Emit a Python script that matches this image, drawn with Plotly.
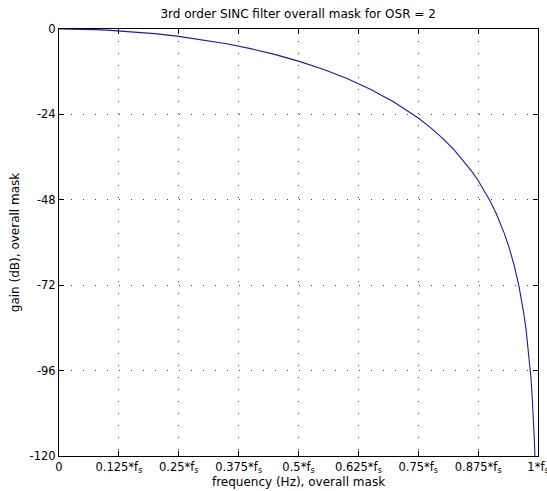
import plotly.graph_objects as go

# frequency as fraction of fs
freq = [0, 0.025, 0.05, 0.075, 0.1, 0.15, 0.2, 0.25, 0.3, 0.35, 0.4, 0.45, 0.5,
        0.55, 0.6, 0.65, 0.7, 0.725, 0.75, 0.775, 0.8, 0.825, 0.85, 0.8625, 0.875,
        0.8875, 0.9, 0.9125, 0.925, 0.93, 0.94, 0.95, 0.96, 0.965, 0.97, 0.975,
        0.98, 0.985, 0.9875, 0.99, 0.9925, 0.995]
gain_db = [0, -0.020, -0.080, -0.181, -0.323, -0.730, -1.308, -2.063, -3.007, -4.154,
           -5.523, -7.137, -9.031, -11.247, -13.847, -16.915, -20.577, -22.69, -25.030,
           -27.65, -30.601, -33.98, -37.908, -40.14, -42.586, -45.30, -48.340, -51.80,
           -55.789, -57.58, -61.58, -66.321, -72.126, -75.60, -79.616, -84.36, -90.175,
           -97.670, -102.42, -108.234, -115.73, -126.29]

x_tickvals = [0, 0.125, 0.25, 0.375, 0.5, 0.625, 0.75, 0.875, 1]
x_ticktext = ["0", "0.125*f<sub>s</sub>", "0.25*f<sub>s</sub>", "0.375*f<sub>s</sub>",
              "0.5*f<sub>s</sub>", "0.625*f<sub>s</sub>", "0.75*f<sub>s</sub>",
              "0.875*f<sub>s</sub>", "1*f<sub>s</sub>"]
y_tickvals = [0, -24, -48, -72, -96, -120]
y_ticktext = ["0", "-24", "-48", "-72", "-96", "-120"]

FONT = "DejaVu Sans, Liberation Sans, Arial"

fig = go.Figure()
fig.add_trace(go.Scatter(x=freq, y=gain_db, mode="lines",
                         line=dict(color="#1c1c9c", width=1.1), showlegend=False))

axis_common = dict(showline=True, linecolor="black", linewidth=1, mirror="ticks",
                   ticks="inside", ticklen=5, tickcolor="black", automargin=False,
                   showgrid=True, gridcolor="#444444", griddash="1px,11px", gridwidth=1,
                   zeroline=False, tickfont=dict(family=FONT, size=11.5, color="black"))

fig.update_layout(
    width=547, height=491,
    margin=dict(l=59, r=9, t=29, b=35),
    paper_bgcolor="white", plot_bgcolor="white",
    font=dict(family=FONT, size=12, color="black"),
    title=dict(text="3rd order SINC filter overall mask for OSR = 2", x=0.545, xanchor="center",
               y=1 - 14 / 491, yanchor="middle", font=dict(size=12, color="black")),
    xaxis=dict(range=[0, 1], tickvals=x_tickvals, ticktext=x_ticktext,
               ticklabeloverflow="allow",
               title=dict(text="frequency (Hz), overall mask", standoff=0, font=dict(size=12)),
               **axis_common),
    yaxis=dict(range=[-120, 0], tickvals=y_tickvals, ticktext=y_ticktext,
               title=dict(text="gain (dB), overall mask", standoff=7, font=dict(size=12)),
               **axis_common),
)

fig.write_html("out.html", config={"displayModeBar": False},
               post_script="document.body.style.margin='0';")
